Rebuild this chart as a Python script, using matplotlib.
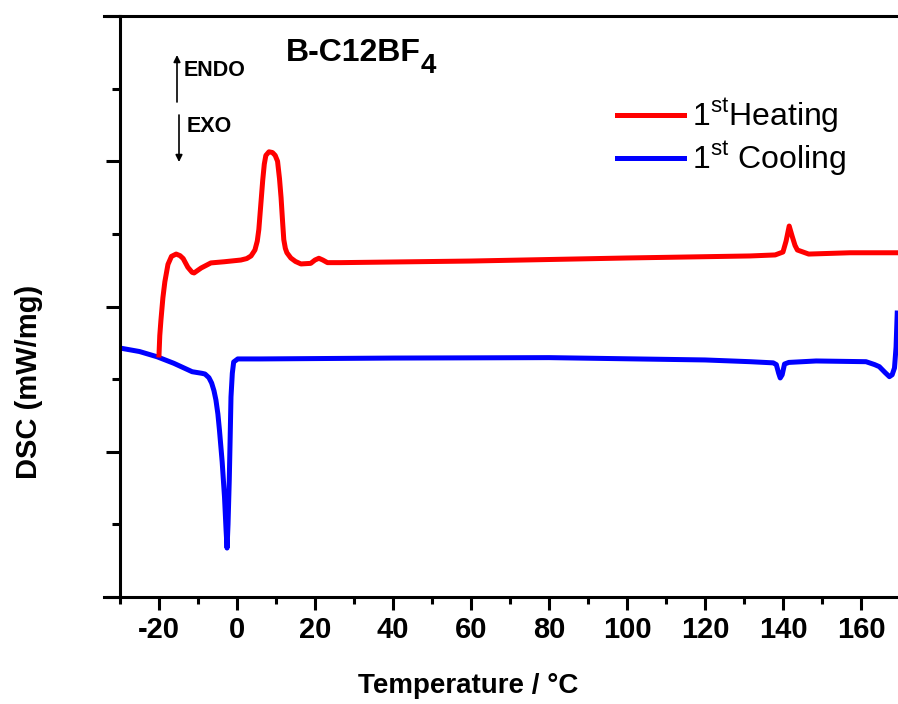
import numpy as np
import matplotlib
matplotlib.use('Agg')
import matplotlib.pyplot as plt
from matplotlib.ticker import MultipleLocator, NullFormatter

plt.rcParams['font.family'] = ['Liberation Sans', 'DejaVu Sans']
plt.rcParams['mathtext.fontset'] = 'custom'
plt.rcParams['mathtext.rm'] = 'Liberation Sans'
plt.rcParams['mathtext.bf'] = 'Liberation Sans:bold'
plt.rcParams['axes.unicode_minus'] = False

# 1st heating
heat_t = [-20.0, -19.8, -19.5, -19.0, -18.5, -17.7, -16.8, -15.6, -14.6, -13.8, -12.6, -11.5,
          -11.0, -10.0, -9.2, -6.7, -3.3, 1.0, 2.5, 3.6, 4.6, 5.2, 5.6, 6.1, 6.6, 7.0, 7.4,
          8.2, 9.1, 9.8, 10.4, 10.9, 11.3, 11.7, 12.0, 12.4, 12.8, 13.8, 15.0, 16.4, 18.9,
          20.0, 21.0, 22.0, 23.2, 26.6, 60.0, 100.0, 131.6, 138.0, 140.0, 140.8, 141.6,
          142.4, 143.1, 143.7, 146.6, 157.2, 169.2]
heat_dsc = [1.666, 1.80, 1.907, 2.06, 2.17, 2.29, 2.345, 2.361, 2.35, 2.33, 2.27, 2.235,
            2.231, 2.25, 2.265, 2.300, 2.308, 2.320, 2.33, 2.348, 2.389, 2.45, 2.53, 2.70,
            2.87, 2.98, 3.04, 3.065, 3.06, 3.04, 3.00, 2.88, 2.75, 2.58, 2.46, 2.40, 2.37,
            2.334, 2.31, 2.293, 2.297, 2.32, 2.332, 2.32, 2.302, 2.302, 2.313, 2.334, 2.348,
            2.355, 2.375, 2.45, 2.554, 2.48, 2.42, 2.389, 2.361, 2.370, 2.370]

# 1st cooling
cool_t = [-30.0, -25.0, -20.5, -16.2, -11.5, -9.0, -8.2, -7.2, -6.5, -5.9, -5.4, -4.9, -4.5,
          -3.8, -3.2, -2.8, -2.55, -2.3, -1.98, -1.75, -1.54, -1.2, -0.85, 0.2, 6.1, 40.0,
          80.0, 120.0, 131.6, 137.5, 138.3, 138.9, 139.3, 139.8, 140.4, 141.5, 148.5, 161.3,
          163.5, 164.7, 166.2, 167.3, 168.0, 168.6, 169.0, 169.3]
cool_dsc = [1.714, 1.69, 1.654, 1.609, 1.551, 1.540, 1.535, 1.51, 1.473, 1.42, 1.356, 1.26,
            1.150, 0.93, 0.688, 0.46, 0.337, 0.50, 0.806, 1.10, 1.377, 1.54, 1.618, 1.639,
            1.639, 1.645, 1.648, 1.632, 1.620, 1.612, 1.60, 1.54, 1.508, 1.53, 1.604, 1.615,
            1.625, 1.620, 1.60, 1.586, 1.545, 1.517, 1.53, 1.577, 1.72, 1.955]

fig = plt.figure(figsize=(8.98, 7.04), dpi=100)
ax = fig.add_axes([120/898, 1 - 597/704, 778/898, 581/704])

ax.plot(cool_t, cool_dsc, color='#0000ff', lw=3.6, label=r'1$^{\mathrm{st}}$ Cooling')
ax.plot(heat_t, heat_dsc, color='#ff0000', lw=3.6, label=r'1$^{\mathrm{st}}$Heating')

ax.set_xlim(-30, 169.5)
ax.set_ylim(0, 4)
ax.xaxis.set_major_locator(MultipleLocator(20))
ax.xaxis.set_minor_locator(MultipleLocator(10))
ax.yaxis.set_major_locator(MultipleLocator(1))
ax.yaxis.set_minor_locator(MultipleLocator(0.5))
ax.yaxis.set_major_formatter(NullFormatter())

ax.tick_params(axis='x', which='major', direction='out', length=9, width=2.2,
               labelsize=21, pad=5)
ax.tick_params(axis='x', which='minor', direction='out', length=5, width=2.2)
ax.tick_params(axis='y', which='major', direction='out', length=10, width=2.2)
ax.tick_params(axis='y', which='minor', direction='out', length=6, width=2.2)
for lab in ax.get_xticklabels():
    lab.set_fontweight('bold')

for s in ['left', 'bottom', 'top']:
    ax.spines[s].set_linewidth(2.2)
ax.spines['right'].set_visible(False)
# axis lines run a little past the left spine (Origin style)
ax.plot([-0.02, 0], [0, 0], transform=ax.transAxes, color='k', lw=2.2, clip_on=False)
ax.plot([-0.02, 0], [1, 1], transform=ax.transAxes, color='k', lw=2.2, clip_on=False)

ax.set_xlabel('Temperature / °C', fontsize=20, fontweight='bold')
ax.xaxis.set_label_coords((468 - 120) / 778, -0.13)
ax.set_ylabel('DSC (mW/mg)', fontsize=21, fontweight='bold')
ax.yaxis.set_label_coords((43 - 120) / 778, (597 - 382) / 581)

ax.text((286 - 120) / 778, (597 - 53) / 581, 'B-C12BF', transform=ax.transAxes,
        fontsize=23, fontweight='bold', ha='left', va='center')
ax.text((421 - 120) / 778, (597 - 66) / 581, '4', transform=ax.transAxes,
        fontsize=20, fontweight='bold', ha='left', va='center')
ax.text((184 - 120) / 778, (597 - 71) / 581, 'ENDO', transform=ax.transAxes,
        fontsize=15.5, fontweight='bold', ha='left', va='center')
ax.text((187 - 120) / 778, (597 - 126) / 581, 'EXO', transform=ax.transAxes,
        fontsize=15.5, fontweight='bold', ha='left', va='center')
ax.annotate('', xy=((177 - 120) / 778, (597 - 55) / 581), xytext=((177 - 120) / 778, (597 - 102) / 581),
            xycoords='axes fraction', arrowprops=dict(arrowstyle='-|>', color='k', lw=1.2,
                                                      mutation_scale=10, shrinkA=0, shrinkB=0))
ax.annotate('', xy=((179 - 120) / 778, (597 - 162) / 581), xytext=((179 - 120) / 778, (597 - 115) / 581),
            xycoords='axes fraction', arrowprops=dict(arrowstyle='-|>', color='k', lw=1.2,
                                                      mutation_scale=10, shrinkA=0, shrinkB=0))

h, l = ax.get_legend_handles_labels()
ax.legend(h[::-1], l[::-1], loc='upper left', bbox_to_anchor=(617 / 898, 1 - 97 / 704),
          bbox_transform=fig.transFigure, frameon=False, fontsize=23, handlelength=2.1,
          handletextpad=0.25, labelspacing=0.15, borderpad=0, borderaxespad=0)

fig.savefig('out.png', dpi=100)
